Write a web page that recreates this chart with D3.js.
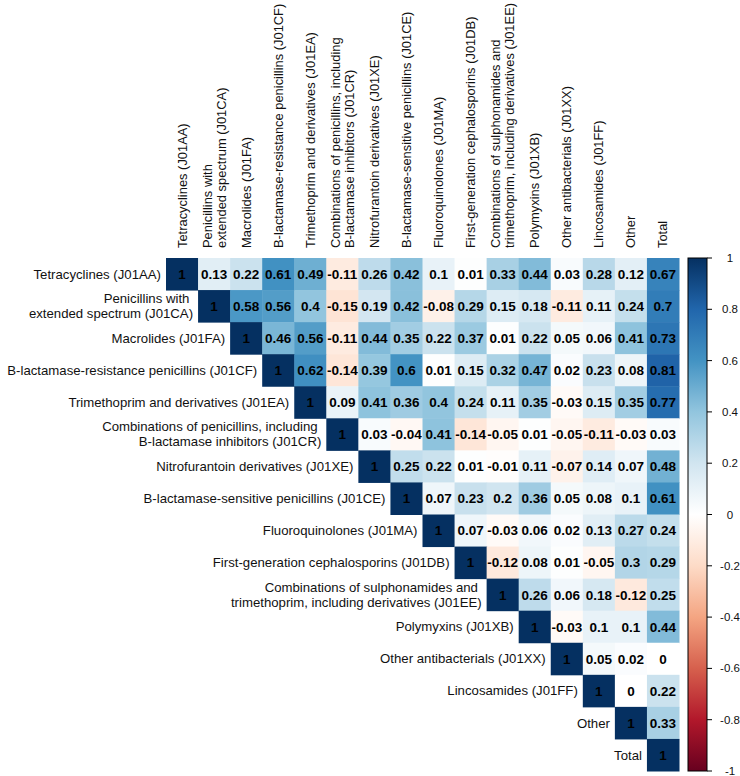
<!DOCTYPE html>
<html lang="en">
  <head>
    <meta charset="UTF-8" />
    <title>Antibiotic correlation matrix</title>
    <style>
      body { margin: 0; background: #fff; }
      svg { display: block; font-family: "Liberation Sans", Arial, sans-serif; }
      tspan { white-space: pre; }
    </style>
  </head>

  <body>
    <div id="chart"></div>

  <script src="https://cdn.jsdelivr.net/npm/d3@7"></script>
    <script>

// variable names, split in lines where the original breaks them
var labels = [
  ["Tetracyclines (J01AA)"],
  ["Penicillins with ", "extended spectrum (J01CA)"],
  ["Macrolides (J01FA)"],
  ["B-lactamase-resistance penicillins (J01CF)"],
  ["Trimethoprim and derivatives (J01EA)"],
  ["Combinations of penicillins, including ", "B-lactamase inhibitors (J01CR)"],
  ["Nitrofurantoin derivatives (J01XE)"],
  ["B-lactamase-sensitive penicillins (J01CE)"],
  ["Fluoroquinolones (J01MA)"],
  ["First-generation cephalosporins (J01DB)"],
  ["Combinations of sulphonamides and ", "trimethoprim, including derivatives (J01EE)"],
  ["Polymyxins (J01XB)"],
  ["Other antibacterials (J01XX)"],
  ["Lincosamides (J01FF)"],
  ["Other"],
  ["Total"]
];

// upper triangle, each row starts at the diagonal
var rows = [
  [1, 0.13, 0.22, 0.61, 0.49, -0.11, 0.26, 0.42, 0.1, 0.01, 0.33, 0.44, 0.03, 0.28, 0.12, 0.67],
  [1, 0.58, 0.56, 0.4, -0.15, 0.19, 0.42, -0.08, 0.29, 0.15, 0.18, -0.11, 0.11, 0.24, 0.7],
  [1, 0.46, 0.56, -0.11, 0.44, 0.35, 0.22, 0.37, 0.01, 0.22, 0.05, 0.06, 0.41, 0.73],
  [1, 0.62, -0.14, 0.39, 0.6, 0.01, 0.15, 0.32, 0.47, 0.02, 0.23, 0.08, 0.81],
  [1, 0.09, 0.41, 0.36, 0.4, 0.24, 0.11, 0.35, -0.03, 0.15, 0.35, 0.77],
  [1, 0.03, -0.04, 0.41, -0.14, -0.05, 0.01, -0.05, -0.11, -0.03, 0.03],
  [1, 0.25, 0.22, 0.01, -0.01, 0.11, -0.07, 0.14, 0.07, 0.48],
  [1, 0.07, 0.23, 0.2, 0.36, 0.05, 0.08, 0.1, 0.61],
  [1, 0.07, -0.03, 0.06, 0.02, 0.13, 0.27, 0.24],
  [1, -0.12, 0.08, 0.01, -0.05, 0.3, 0.29],
  [1, 0.26, 0.06, 0.18, -0.12, 0.25],
  [1, -0.03, 0.1, 0.1, 0.44],
  [1, 0.05, 0.02, 0],
  [1, 0, 0.22],
  [1, 0.33],
  [1]
];

var legendTicks = [-1, -0.8, -0.6, -0.4, -0.2, 0, 0.2, 0.4, 0.6, 0.8, 1];
var palette = ["#67001F", "#B2182B", "#D6604D", "#F4A582", "#FDDBC7", "#FFFFFF",
               "#D1E5F0", "#92C5DE", "#4393C3", "#2166AC", "#053061"];

var w = 740;
var h = 776;
var gx0 = 166, gx1 = 679, gy0 = 258, gy1 = 771;

var n = labels.length;
var idx = d3.range(n);

var x = d3.scaleBand().domain(idx).range([gx0, gx1]);
var y = d3.scaleBand().domain(idx).range([gy0, gy1]);
var color = d3.scaleLinear().domain(legendTicks).range(palette).interpolate(d3.interpolateRgb);

// flatten the triangle into cells
var cells = [];
rows.forEach(function(r, i) {
  r.forEach(function(v, k) {
    cells.push({ i: i, j: i + k, v: v });
  });
});

var svg = d3.select("#chart").append("svg")
            .attr("width", w)
            .attr("height", h);

svg.selectAll("rect.cell")
   .data(cells)
   .enter()
   .append("rect")
   .attr("class", "cell")
   .attr("x", function(d) { return x(d.j); })
   .attr("y", function(d) { return y(d.i); })
   .attr("width", x.bandwidth() + 0.5)
   .attr("height", y.bandwidth() + 0.5)
   .attr("fill", function(d) { return color(d.v); });

svg.selectAll("text.val")
   .data(cells)
   .enter()
   .append("text")
   .attr("class", "val")
   .attr("x", function(d) { return x(d.j) + x.bandwidth() / 2; })
   .attr("y", function(d) { return y(d.i) + y.bandwidth() / 2; })
   .attr("dy", "0.36em")
   .attr("text-anchor", "middle")
   .style("font-size", "13.5px")
   .style("font-weight", "bold")
   .attr("fill", "#000")
   .text(function(d) { return d.v; });

// row labels, right aligned next to the diagonal cell
var lineGap = 15;
var rowLab = svg.selectAll("text.rowlab")
                .data(idx)
                .enter()
                .append("text")
                .attr("class", "rowlab")
                .attr("text-anchor", "end")
                .style("font-size", "13.2px")
                .attr("fill", "#111");
rowLab.selectAll("tspan")
      .data(function(i) {
        return labels[i].map(function(s, k) { return { i: i, s: s, k: k, m: labels[i].length }; });
      })
      .enter()
      .append("tspan")
      .attr("x", function(d) { return x(d.i) - 5; })
      .attr("y", function(d) { return y(d.i) + y.bandwidth() / 2 + (d.k - (d.m - 1) / 2) * lineGap; })
      .attr("dy", "0.35em")
      .text(function(d) { return d.s; });

// column labels, rotated, reading upwards from just above the grid
var colLab = svg.selectAll("text.collab")
                .data(idx)
                .enter()
                .append("text")
                .attr("class", "collab")
                .attr("transform", function(i) {
                  return "translate(" + (x(i) + x.bandwidth() / 2) + "," + (gy0 - 10) + ") rotate(-90)";
                })
                .style("font-size", "12.9px")
                .attr("fill", "#111");
colLab.selectAll("tspan")
      .data(function(i) {
        return labels[i].map(function(s, k) { return { s: s, k: k, m: labels[i].length }; });
      })
      .enter()
      .append("tspan")
      .attr("x", 0)
      .attr("y", function(d) { return (d.k - (d.m - 1) / 2) * 14; })
      .attr("dy", "0.35em")
      .text(function(d) { return d.s; });

// colour legend
var lx = 688, lw = 19;
var ly = d3.scaleLinear().domain([-1, 1]).range([gy1, gy0]);

var grad = svg.append("defs").append("linearGradient")
              .attr("id", "cbar")
              .attr("x1", 0).attr("y1", 1)
              .attr("x2", 0).attr("y2", 0);
grad.selectAll("stop")
    .data(legendTicks)
    .enter()
    .append("stop")
    .attr("offset", function(d) { return (d + 1) / 2; })
    .attr("stop-color", function(d) { return color(d); });

svg.append("rect")
   .attr("x", lx)
   .attr("y", gy0)
   .attr("width", lw)
   .attr("height", gy1 - gy0)
   .attr("fill", "url(#cbar)")
   .attr("stroke", "#000")
   .attr("stroke-width", 1);

svg.selectAll("line.tick")
   .data(legendTicks)
   .enter()
   .append("line")
   .attr("class", "tick")
   .attr("x1", lx + lw)
   .attr("x2", lx + lw + 5)
   .attr("y1", function(d) { return ly(d); })
   .attr("y2", function(d) { return ly(d); })
   .attr("stroke", "#000");

svg.selectAll("text.tick")
   .data(legendTicks)
   .enter()
   .append("text")
   .attr("class", "tick")
   .attr("x", 730)
   .attr("y", function(d) { return ly(d); })
   .attr("dy", "0.35em")
   .attr("text-anchor", "middle")
   .style("font-size", "11.5px")
   .attr("fill", "#111")
   .text(function(d) { return d; });

</script>

  </body>
</html>
